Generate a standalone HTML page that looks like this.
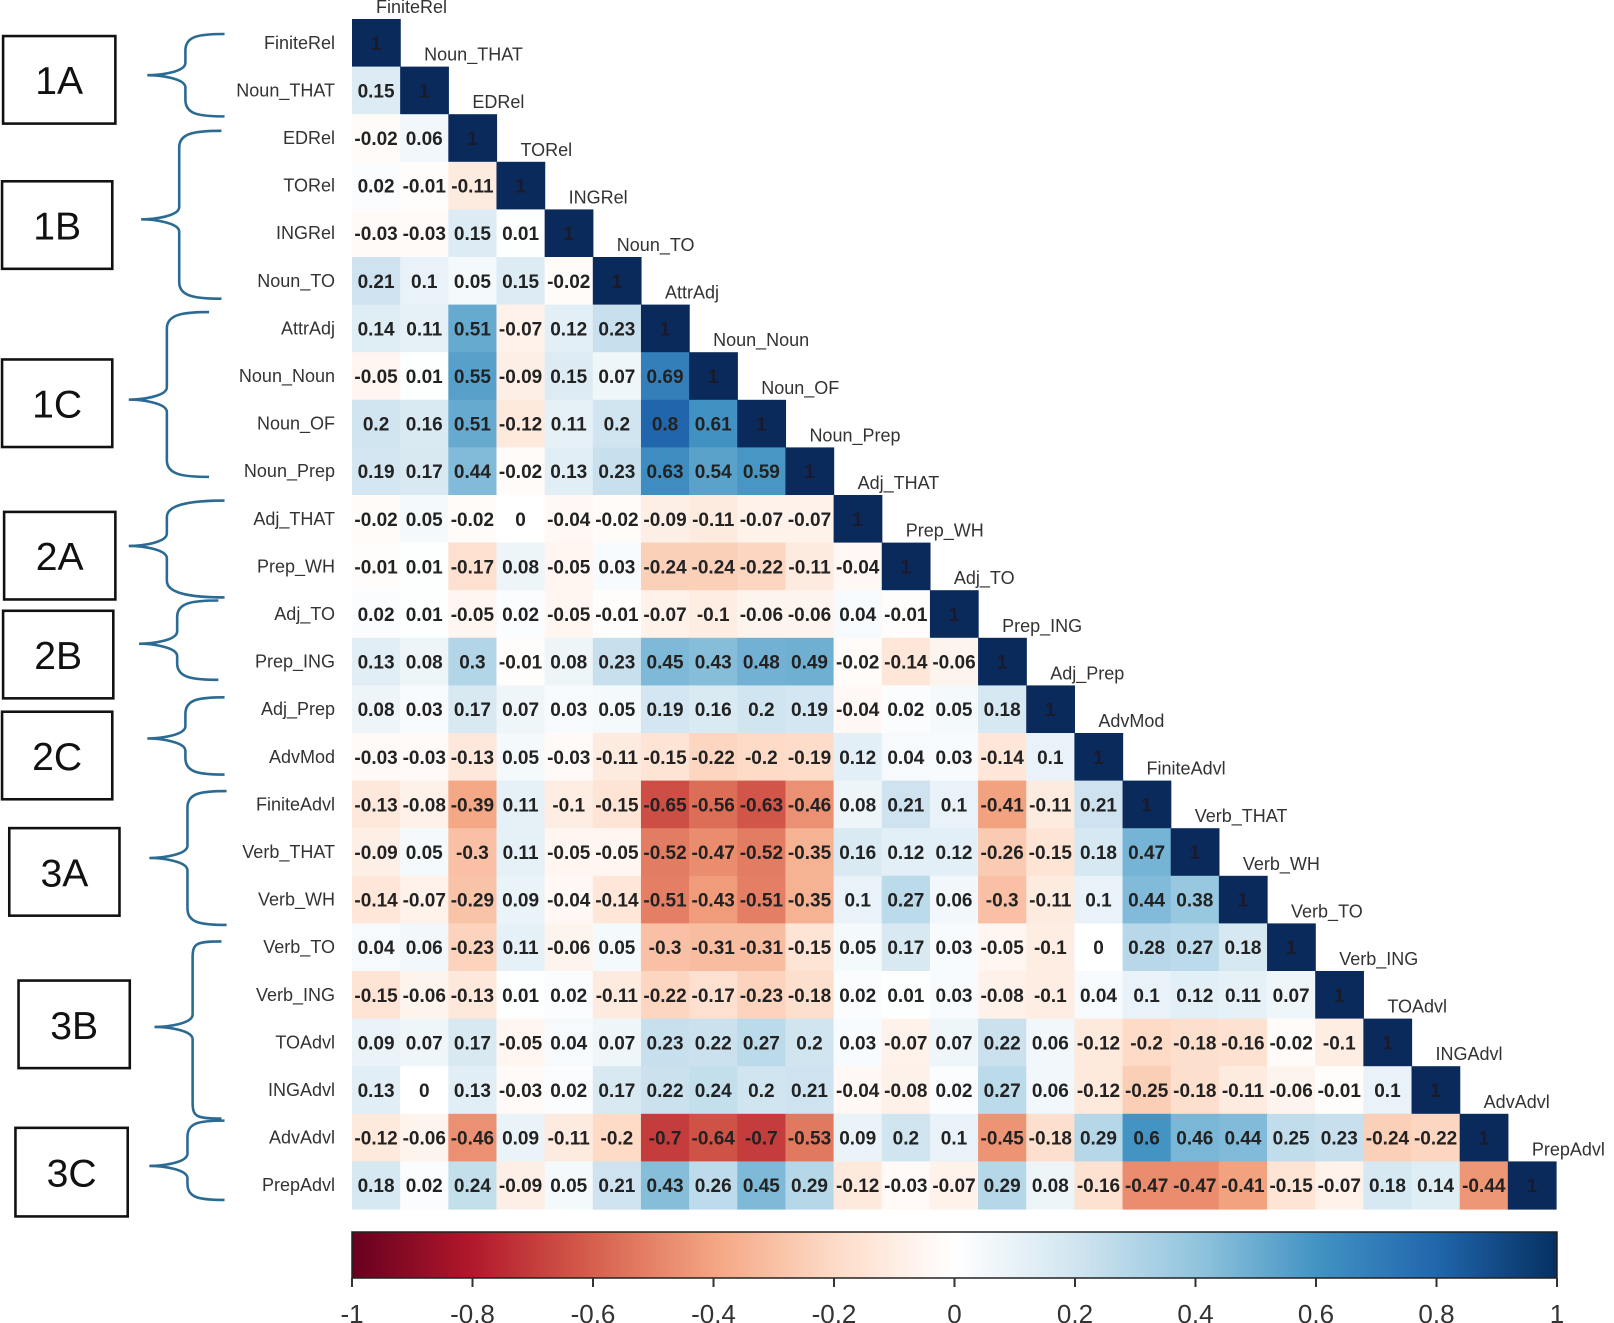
<!DOCTYPE html>
<html><head><meta charset="utf-8"><style>
html,body{margin:0;padding:0;background:#fff;}
svg{display:block;}
</style></head><body>
<svg id="s" width="1614" height="1323" viewBox="0 0 1614 1323" xmlns="http://www.w3.org/2000/svg" font-family="Liberation Sans, Arial, sans-serif">
<defs>
<linearGradient id="cb" x1="0" x2="1" y1="0" y2="0">
<stop offset="0" stop-color="#67001f"/><stop offset="0.1" stop-color="#b2182b"/><stop offset="0.2" stop-color="#d6604d"/><stop offset="0.3" stop-color="#f4a582"/><stop offset="0.4" stop-color="#fddbc7"/><stop offset="0.5" stop-color="#ffffff"/><stop offset="0.6" stop-color="#d1e5f0"/><stop offset="0.7" stop-color="#92c5de"/><stop offset="0.8" stop-color="#4393c3"/><stop offset="0.9" stop-color="#2166ac"/><stop offset="1" stop-color="#053061"/>
</linearGradient>
</defs>
<g id="g"></g>
</svg>
<script>
var names=["FiniteRel","Noun_THAT","EDRel","TORel","INGRel","Noun_TO","AttrAdj","Noun_Noun","Noun_OF","Noun_Prep","Adj_THAT","Prep_WH","Adj_TO","Prep_ING","Adj_Prep","AdvMod","FiniteAdvl","Verb_THAT","Verb_WH","Verb_TO","Verb_ING","TOAdvl","INGAdvl","AdvAdvl","PrepAdvl"];
var R=[[],
[.15],
[-.02,.06],
[.02,-.01,-.11],
[-.03,-.03,.15,.01],
[.21,.1,.05,.15,-.02],
[.14,.11,.51,-.07,.12,.23],
[-.05,.01,.55,-.09,.15,.07,.69],
[.2,.16,.51,-.12,.11,.2,.8,.61],
[.19,.17,.44,-.02,.13,.23,.63,.54,.59],
[-.02,.05,-.02,0,-.04,-.02,-.09,-.11,-.07,-.07],
[-.01,.01,-.17,.08,-.05,.03,-.24,-.24,-.22,-.11,-.04],
[.02,.01,-.05,.02,-.05,-.01,-.07,-.1,-.06,-.06,.04,-.01],
[.13,.08,.3,-.01,.08,.23,.45,.43,.48,.49,-.02,-.14,-.06],
[.08,.03,.17,.07,.03,.05,.19,.16,.2,.19,-.04,.02,.05,.18],
[-.03,-.03,-.13,.05,-.03,-.11,-.15,-.22,-.2,-.19,.12,.04,.03,-.14,.1],
[-.13,-.08,-.39,.11,-.1,-.15,-.65,-.56,-.63,-.46,.08,.21,.1,-.41,-.11,.21],
[-.09,.05,-.3,.11,-.05,-.05,-.52,-.47,-.52,-.35,.16,.12,.12,-.26,-.15,.18,.47],
[-.14,-.07,-.29,.09,-.04,-.14,-.51,-.43,-.51,-.35,.1,.27,.06,-.3,-.11,.1,.44,.38],
[.04,.06,-.23,.11,-.06,.05,-.3,-.31,-.31,-.15,.05,.17,.03,-.05,-.1,0,.28,.27,.18],
[-.15,-.06,-.13,.01,.02,-.11,-.22,-.17,-.23,-.18,.02,.01,.03,-.08,-.1,.04,.1,.12,.11,.07],
[.09,.07,.17,-.05,.04,.07,.23,.22,.27,.2,.03,-.07,.07,.22,.06,-.12,-.2,-.18,-.16,-.02,-.1],
[.13,0,.13,-.03,.02,.17,.22,.24,.2,.21,-.04,-.08,.02,.27,.06,-.12,-.25,-.18,-.11,-.06,-.01,.1],
[-.12,-.06,-.46,.09,-.11,-.2,-.7,-.64,-.7,-.53,.09,.2,.1,-.45,-.18,.29,.6,.46,.44,.25,.23,-.24,-.22],
[.18,.02,.24,-.09,.05,.21,.43,.26,.45,.29,-.12,-.03,-.07,.29,.08,-.16,-.47,-.47,-.41,-.15,-.07,.18,.14,-.44]];
var stops=[[103,0,31],[178,24,43],[214,96,77],[244,165,130],[253,219,199],[255,255,255],[209,229,240],[146,197,222],[67,147,195],[33,102,172],[5,48,97]];
function col(v){var t=(v+1)*5;var i=Math.min(9,Math.floor(t));var f=t-i;var a=stops[i],b=stops[i+1];
return "rgb("+[0,1,2].map(function(k){return Math.round(a[k]+(b[k]-a[k])*f)}).join(",")+")";}
function fmt(v){if(v===0)return "0";var s=String(Math.abs(v));s=s.replace(/^0\./,"0.");return (v<0?"-":"")+s;}
var h="";var X0=352,Y0=19,CW=48.16,CH=47.6;
for(var i=0;i<25;i++){
 var y=Y0+i*CH;
 h+='<text x="335" y="'+(y+CH/2+6)+'" text-anchor="end" font-size="18" fill="#333">'+names[i]+'</text>';
 for(var j=0;j<=i;j++){
  var x=X0+j*CW;var v=(i==j)?1:R[i][j];
  h+='<rect x="'+x+'" y="'+y+'" width="'+(CW+0.6)+'" height="'+(CH+0.6)+'" fill="'+(i==j?"#0a2a5c":col(v))+'"/>';
  h+='<text x="'+(x+CW/2)+'" y="'+(y+CH/2+7)+'" text-anchor="middle" font-size="19" font-weight="bold" fill="'+(i==j?"#1a1a2a":"#222")+'">'+(i==j?"1":fmt(v))+'</text>';
 }
 h+='<text x="'+(X0+i*CW+24)+'" y="'+(y-6)+'" font-size="18" fill="#333">'+names[i]+'</text>';
}
// colorbar
h+='<rect x="352" y="1232" width="1205" height="46" fill="url(#cb)" stroke="#222" stroke-width="1.5"/>';
var labs=["-1","-0.8","-0.6","-0.4","-0.2","0","0.2","0.4","0.6","0.8","1"];
for(var k=0;k<11;k++){var x=352+k*120.5;
 h+='<line x1="'+x+'" x2="'+x+'" y1="1278" y2="1287" stroke="#333" stroke-width="2"/>';
 h+='<text x="'+x+'" y="1323" text-anchor="middle" font-size="26" fill="#333">'+labs[k]+'</text>';}
// boxes and braces (displayed coords scaled 1.03)
h+='<g transform="scale(1.03)">';
var boxes=[["1A",3,35,112,120],["1B",2,176,109,261],["1C",2,349,109,434],["2A",4,497,112,582],["2B",3,593,110,678],["2C",2,691,109,776],["3A",9,804,116,889],["3B",18,952,126,1037],["3C",15,1095,124,1181]];
boxes.forEach(function(b){h+='<rect x="'+b[1]+'" y="'+b[2]+'" width="'+(b[3]-b[1])+'" height="'+(b[4]-b[2])+'" fill="#fff" stroke="#111" stroke-width="2.5"/>';
 h+='<text x="'+((b[1]+b[3])/2)+'" y="'+((b[2]+b[4])/2+14)+'" text-anchor="middle" font-size="38" fill="#111">'+b[0]+'</text>';});
var br=[[33,113,143,73,218],[127,290,137,213,215],[303,463,125,388,203],[486,580,125,530,218],[583,660,135,625,212],[677,752,143,717,218],[768,898,145,833,220],[914,1086,150,997,215],[1088,1165,145,1132,218]];
br.forEach(function(b){var y1=b[0],y2=b[1],xt=b[2],ym=b[3],xr=b[4],xb=xt+37;
 var d="M"+xr+" "+y1+" C"+(xr-25)+" "+y1+" "+xb+" "+(y1+2)+" "+xb+" "+(y1+16)+" L"+xb+" "+(ym-12)+" C"+xb+" "+(ym-3)+" "+(xt+12)+" "+ym+" "+xt+" "+ym+" C"+(xt+12)+" "+ym+" "+xb+" "+(ym+3)+" "+xb+" "+(ym+12)+" L"+xb+" "+(y2-16)+" C"+xb+" "+(y2-2)+" "+(xr-25)+" "+y2+" "+xr+" "+y2;
 h+='<path d="'+d+'" fill="none" stroke="#2b6a92" stroke-width="2.5"/>';});
h+='</g>';
document.getElementById("g").innerHTML=h;
</script>
</body></html>
